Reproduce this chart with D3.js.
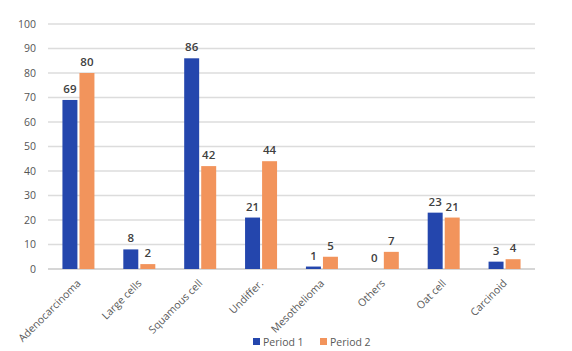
<!DOCTYPE html>
<html>
<head>
<meta charset="utf-8">
<script src="https://cdn.jsdelivr.net/npm/d3@7"></script>
<style>
  body { margin: 0; background: #fff; }
  text { font-family: "Open Sans", "Noto Sans", sans-serif; }
</style>
</head>
<body>
<div id="chart"></div>
<script>
const categories = ["Adenocarcinoma", "Large cells", "Squamous cell", "Undiffer.", "Mesothelioma", "Others", "Oat cell", "Carcinoid"];
const period1 = [69, 8, 86, 21, 1, 0, 23, 3];
const period2 = [80, 2, 42, 44, 5, 7, 21, 4];
const seriesNames = ["Period 1", "Period 2"];
const yTicks = [0, 10, 20, 30, 40, 50, 60, 70, 80, 90, 100];

const colors = ["#2446ad", "#f2945c"];

const W = 572, H = 351;
const margin = { top: 24, right: 37, bottom: 82, left: 48 };
const width = W - margin.left - margin.right;
const height = H - margin.top - margin.bottom;

const svg = d3.select("#chart").append("svg")
  .attr("width", W).attr("height", H);
const g = svg.append("g").attr("transform", `translate(${margin.left},${margin.top})`);

const x = d3.scaleBand().domain(categories).range([0, width]);
const xInner = d3.scaleBand().domain(seriesNames).range([0, 32]).paddingInner(0.12);
const y = d3.scaleLinear().domain([0, 100]).range([height, 0]);

// gridlines
g.selectAll(".grid").data(yTicks).enter().append("line")
  .attr("x1", 0).attr("x2", width)
  .attr("y1", d => y(d)).attr("y2", d => y(d))
  .attr("stroke", d => d === 0 ? "#c8c8c8" : "#dcdcdc")
  .attr("stroke-width", 1.5);

// y tick labels
g.selectAll(".ylab").data(yTicks).enter().append("text")
  .attr("x", -12).attr("y", d => y(d)).attr("dy", "0.35em")
  .attr("text-anchor", "end").attr("font-size", 10.5).attr("fill", "#555")
  .text(d => d);

const rows = categories.map((c, i) => ({ cat: c, vals: [period1[i], period2[i]] }));

const grp = g.selectAll(".cat").data(rows).enter().append("g")
  .attr("transform", d => `translate(${x(d.cat) + (x.bandwidth() - 32) / 2},0)`);

grp.selectAll("rect").data(d => d.vals.map((v, k) => ({ v, k }))).enter().append("rect")
  .attr("x", d => xInner(seriesNames[d.k]))
  .attr("width", xInner.bandwidth())
  .attr("y", d => y(d.v))
  .attr("height", d => height - y(d.v))
  .attr("fill", d => colors[d.k]);

grp.selectAll(".val").data(d => d.vals.map((v, k) => ({ v, k }))).enter().append("text")
  .attr("x", d => xInner(seriesNames[d.k]) + xInner.bandwidth() / 2)
  .attr("y", d => y(d.v) - 7)
  .attr("text-anchor", "middle").attr("font-size", 11.5).attr("font-weight", 600)
  .attr("fill", "#404040")
  .text(d => d.v);

// x labels rotated
g.selectAll(".xlab").data(categories).enter().append("text")
  .attr("transform", d => `translate(${x(d) + x.bandwidth() / 2 + 3},${height + 15}) rotate(-45)`)
  .attr("text-anchor", "end").attr("font-size", 10.5).attr("fill", "#595959")
  .text(d => d);

// legend
const legend = svg.append("g").attr("transform", "translate(253,338)");
seriesNames.forEach((s, i) => {
  const lg = legend.append("g").attr("transform", `translate(${i * 67},0)`);
  lg.append("rect").attr("width", 7).attr("height", 7).attr("fill", colors[i]);
  lg.append("text").attr("x", 10).attr("y", 4).attr("dy", "0.35em")
    .attr("font-size", 10.5).attr("fill", "#595959").text(s);
});
</script>
</body>
</html>
